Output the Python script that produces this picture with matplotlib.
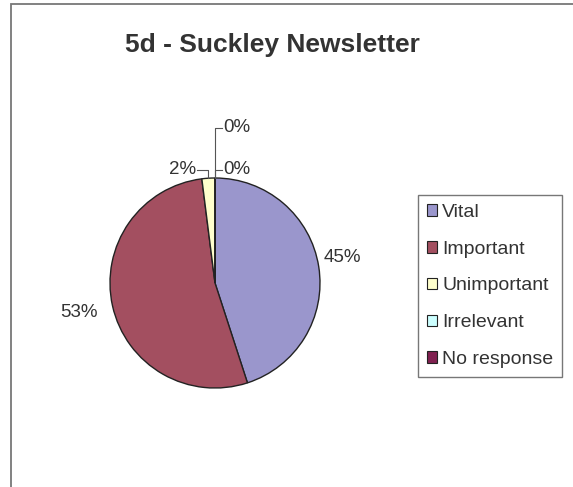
import numpy as np
import matplotlib
matplotlib.use("Agg")
import matplotlib.pyplot as plt
from matplotlib.patches import Rectangle, Patch

plt.rcParams['font.family'] = ['Liberation Sans', 'DejaVu Sans']

title = "5d - Suckley Newsletter"
categories = ["Vital", "Important", "Unimportant", "Irrelevant", "No response"]
values = [45, 53, 2, 0, 0]
pct_labels = ["45%", "53%", "2%", "0%", "0%"]
colors = ["#9A96CC", "#A34F60", "#FFFFCC", "#CCFFFF", "#802050"]

W, H = 573, 487
fig = plt.figure(figsize=(W / 100, H / 100), dpi=100)
fig.patch.set_facecolor("white")

# outer chart frame (extends beyond right/bottom)
fig.patches.append(Rectangle((11 / W, -0.1), 1.2, 1 - 4 / H + 0.1, transform=fig.transFigure,
                             fill=False, edgecolor="#777777", linewidth=1.3))

fig.text(272 / W, 1 - 45 / H, title, ha="center", va="center", fontsize=19,
         fontweight="bold", color="#333333")

cx, cy, R = 215, 283, 105
lim = 1.6
half = R * lim
ax = fig.add_axes([(cx - half) / W, (H - cy - half) / H, 2 * half / W, 2 * half / H])

plot_vals = [v if v > 0 else 1e-9 for v in values]
wedges, _ = ax.pie(plot_vals, colors=colors, startangle=90, counterclock=False, radius=1,
                   wedgeprops=dict(edgecolor="#222222", linewidth=1.0))
ax.set_xlim(-lim, lim)
ax.set_ylim(-lim, lim)
ax.axis("off")

tc = "#333333"
fs = 13.5
# big slices: labels outside
for i, pos in enumerate([(1.21, 0.24), (-1.30, -0.28)]):
    ax.text(pos[0], pos[1], pct_labels[i], ha="center", va="center", fontsize=fs, color=tc)

def mid_angle(w):
    return np.deg2rad((w.theta1 + w.theta2) / 2)

lc = "#555555"
# 2% (Unimportant)
px = np.cos(mid_angle(wedges[2]))
ax.plot([px, px, -0.17], [1.0, 1.08, 1.08], color=lc, lw=0.8, clip_on=False)
ax.text(-0.18, 1.08, pct_labels[2], ha="right", va="center", fontsize=fs, color=tc)
# 0% Irrelevant
px = np.cos(mid_angle(wedges[3]))
ax.plot([px, px, 0.07], [1.0, 1.08, 1.08], color=lc, lw=0.8, clip_on=False)
ax.text(0.08, 1.08, pct_labels[3], ha="left", va="center", fontsize=fs, color=tc)
# 0% No response
px = np.cos(mid_angle(wedges[4]))
ax.plot([px, px, 0.07], [1.0, 1.48, 1.48], color=lc, lw=0.8, clip_on=False)
ax.text(0.08, 1.48, pct_labels[4], ha="left", va="center", fontsize=fs, color=tc)

handles = [Patch(facecolor=c, edgecolor="#222222", linewidth=0.8) for c in colors]
leg = fig.legend(handles, categories, loc="upper left",
                 bbox_to_anchor=(418 / W, 1 - 195 / H), frameon=True, fontsize=14,
                 handlelength=0.55, handleheight=0.55, handletextpad=0.25,
                 labelspacing=1.02, borderpad=0.45, borderaxespad=0, fancybox=False,
                 labelcolor=tc)
leg.get_frame().set_edgecolor("#555555")
leg.get_frame().set_linewidth(1.0)

fig.savefig("out.png", dpi=100)
